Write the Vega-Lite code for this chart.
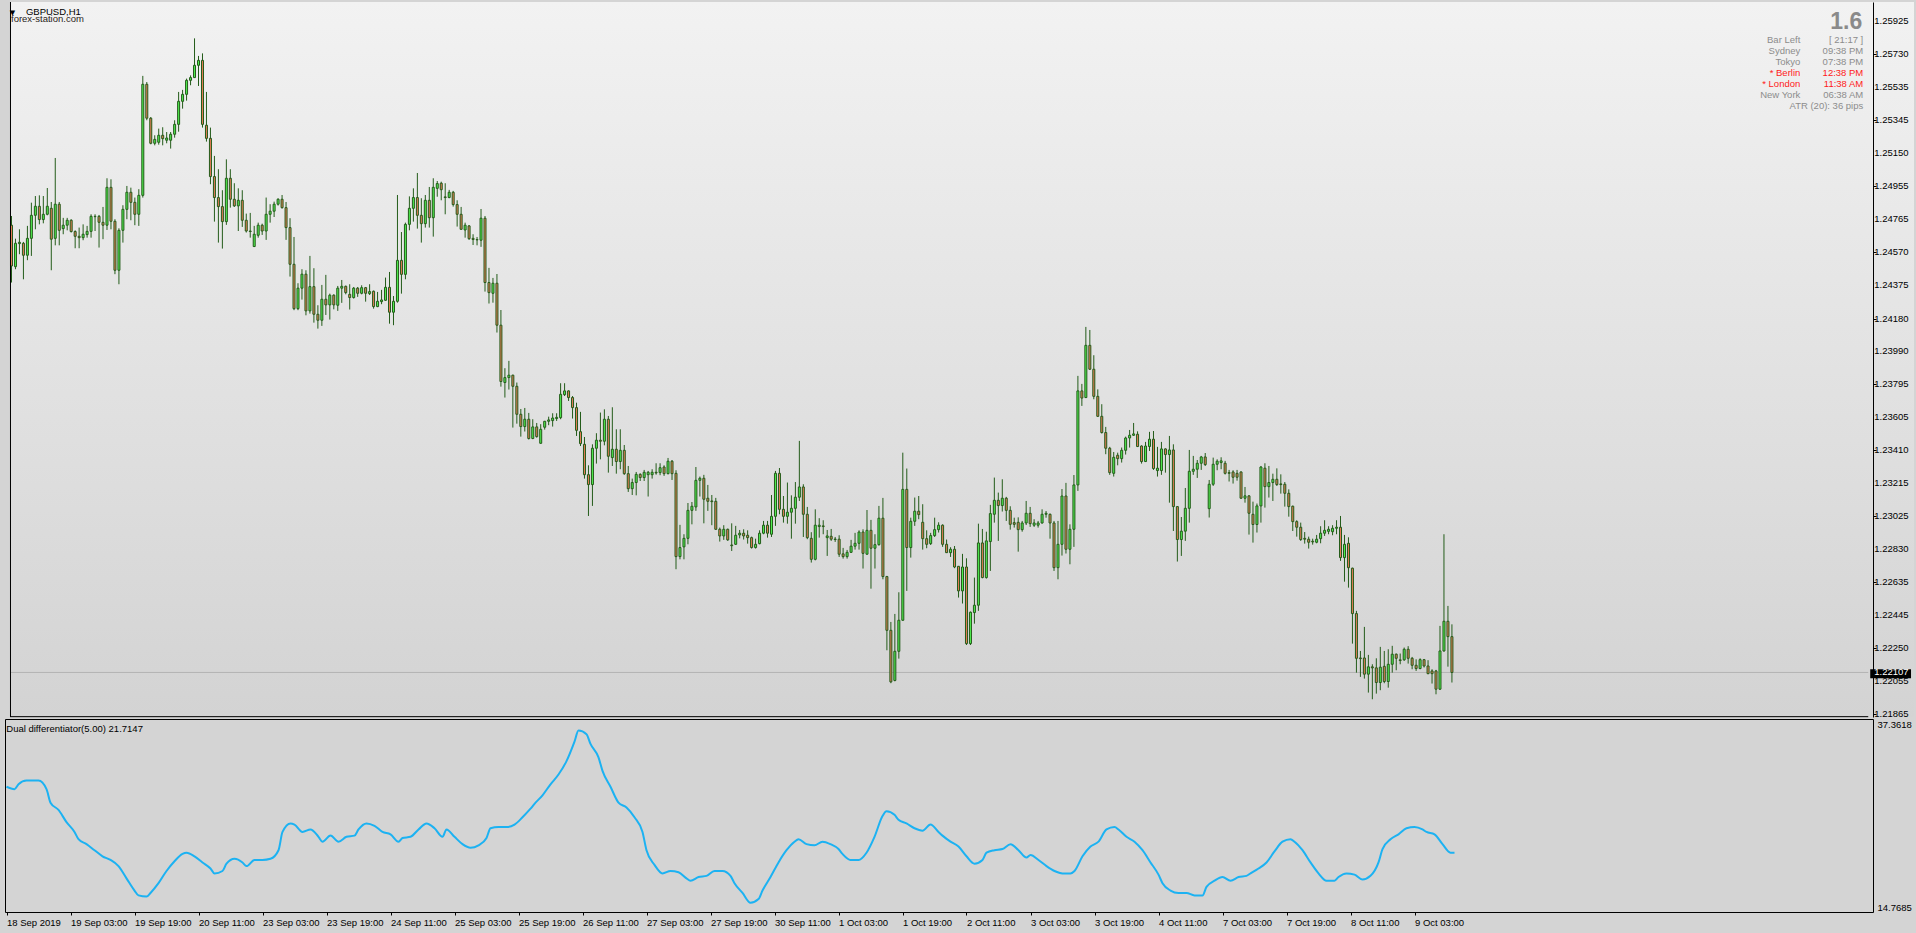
{
"$schema":"https://vega.github.io/schema/vega-lite/v6.json",
"background":"#d4d4d4",
"padding":{"left":2,"top":1,"right":0,"bottom":10},
"spacing":2,
"bounds":"flush",
"config":{"font":"Liberation Sans","view":{"stroke":null},"axis":{"labelFont":"Liberation Sans","labelFontSize":9.5,"labelColor":"#000","tickColor":"#000","domainColor":"#000","grid":false,"labelOverlap":false},"text":{"font":"Liberation Sans"}},
"datasets":{
"ylab":[{"t":1.25925},{"t":1.2573},{"t":1.25535},{"t":1.25345},{"t":1.2515},{"t":1.24955},{"t":1.24765},{"t":1.2457},{"t":1.24375},{"t":1.2418},{"t":1.2399},{"t":1.23795},{"t":1.23605},{"t":1.2341},{"t":1.23215},{"t":1.23025},{"t":1.2283},{"t":1.22635},{"t":1.22445},{"t":1.2225},{"t":1.22055},{"t":1.21865}],
"bars":[
{"k":0,"o":1.24728,"h":1.24782,"l":1.24392,"c":1.24489},
{"k":1,"o":1.24485,"h":1.24649,"l":1.24470,"c":1.24622},
{"k":2,"o":1.24620,"h":1.24704,"l":1.24558,"c":1.24628},
{"k":3,"o":1.24622,"h":1.24630,"l":1.24411,"c":1.24552},
{"k":4,"o":1.24552,"h":1.24724,"l":1.24523,"c":1.24651},
{"k":5,"o":1.24651,"h":1.24860,"l":1.24548,"c":1.24786},
{"k":6,"o":1.24786,"h":1.24899,"l":1.24704,"c":1.24839},
{"k":7,"o":1.24839,"h":1.24903,"l":1.24733,"c":1.24761},
{"k":8,"o":1.24761,"h":1.24899,"l":1.24739,"c":1.24792},
{"k":9,"o":1.24792,"h":1.24946,"l":1.24786,"c":1.24839},
{"k":10,"o":1.24827,"h":1.24864,"l":1.24464,"c":1.24646},
{"k":11,"o":1.24651,"h":1.25122,"l":1.24610,"c":1.24851},
{"k":12,"o":1.24851,"h":1.24864,"l":1.24610,"c":1.24698},
{"k":13,"o":1.24708,"h":1.24771,"l":1.24675,"c":1.24728},
{"k":14,"o":1.24728,"h":1.24771,"l":1.24698,"c":1.24757},
{"k":15,"o":1.24757,"h":1.24763,"l":1.24685,"c":1.24691},
{"k":16,"o":1.24691,"h":1.24698,"l":1.24593,"c":1.24663},
{"k":17,"o":1.24663,"h":1.24714,"l":1.24593,"c":1.24655},
{"k":18,"o":1.24655,"h":1.24733,"l":1.24640,"c":1.24675},
{"k":19,"o":1.24673,"h":1.24724,"l":1.24655,"c":1.24692},
{"k":20,"o":1.24692,"h":1.24792,"l":1.24655,"c":1.24780},
{"k":21,"o":1.24780,"h":1.24792,"l":1.24694,"c":1.24778},
{"k":22,"o":1.24780,"h":1.24788,"l":1.24597,"c":1.24745},
{"k":23,"o":1.24745,"h":1.24835,"l":1.24646,"c":1.24728},
{"k":24,"o":1.24728,"h":1.25003,"l":1.24700,"c":1.24950},
{"k":25,"o":1.24950,"h":1.24997,"l":1.24704,"c":1.24751},
{"k":26,"o":1.24751,"h":1.24763,"l":1.24441,"c":1.24464},
{"k":27,"o":1.24464,"h":1.24710,"l":1.24382,"c":1.24698},
{"k":28,"o":1.24698,"h":1.24845,"l":1.24626,"c":1.24821},
{"k":29,"o":1.24821,"h":1.24958,"l":1.24763,"c":1.24921},
{"k":30,"o":1.24921,"h":1.24948,"l":1.24757,"c":1.24862},
{"k":31,"o":1.24862,"h":1.24890,"l":1.24728,"c":1.24792},
{"k":32,"o":1.24792,"h":1.24939,"l":1.24724,"c":1.24903},
{"k":33,"o":1.24903,"h":1.25603,"l":1.24890,"c":1.25554},
{"k":34,"o":1.25554,"h":1.25567,"l":1.25343,"c":1.25355},
{"k":35,"o":1.25355,"h":1.25362,"l":1.25202,"c":1.25208},
{"k":36,"o":1.25208,"h":1.25255,"l":1.25196,"c":1.25231},
{"k":37,"o":1.25214,"h":1.25294,"l":1.25200,"c":1.25255},
{"k":38,"o":1.25255,"h":1.25302,"l":1.25196,"c":1.25235},
{"k":39,"o":1.25226,"h":1.25274,"l":1.25208,"c":1.25239},
{"k":40,"o":1.25226,"h":1.25274,"l":1.25177,"c":1.25261},
{"k":41,"o":1.25261,"h":1.25343,"l":1.25241,"c":1.25319},
{"k":42,"o":1.25319,"h":1.25509,"l":1.25276,"c":1.25454},
{"k":43,"o":1.25454,"h":1.25521,"l":1.25411,"c":1.25495},
{"k":44,"o":1.25495,"h":1.25587,"l":1.25458,"c":1.25577},
{"k":45,"o":1.25577,"h":1.25606,"l":1.25548,"c":1.25593},
{"k":46,"o":1.25593,"h":1.25823,"l":1.25593,"c":1.25665},
{"k":47,"o":1.25665,"h":1.25720,"l":1.25544,"c":1.25694},
{"k":48,"o":1.25694,"h":1.25735,"l":1.25300,"c":1.25319},
{"k":49,"o":1.25314,"h":1.25509,"l":1.25218,"c":1.25237},
{"k":50,"o":1.25237,"h":1.25300,"l":1.24968,"c":1.25013},
{"k":51,"o":1.25013,"h":1.25134,"l":1.24749,"c":1.24890},
{"k":52,"o":1.24890,"h":1.25056,"l":1.24626,"c":1.24837},
{"k":53,"o":1.24837,"h":1.24933,"l":1.24591,"c":1.24749},
{"k":54,"o":1.24749,"h":1.25114,"l":1.24730,"c":1.25003},
{"k":55,"o":1.25003,"h":1.25056,"l":1.24831,"c":1.24880},
{"k":56,"o":1.24880,"h":1.24974,"l":1.24835,"c":1.24841},
{"k":57,"o":1.24841,"h":1.24944,"l":1.24694,"c":1.24874},
{"k":58,"o":1.24874,"h":1.24933,"l":1.24718,"c":1.24757},
{"k":59,"o":1.24757,"h":1.24796,"l":1.24685,"c":1.24694},
{"k":60,"o":1.24694,"h":1.24800,"l":1.24655,"c":1.24691},
{"k":61,"o":1.24603,"h":1.24724,"l":1.24600,"c":1.24675},
{"k":62,"o":1.24669,"h":1.24743,"l":1.24655,"c":1.24728},
{"k":63,"o":1.24728,"h":1.24737,"l":1.24671,"c":1.24694},
{"k":64,"o":1.24694,"h":1.24890,"l":1.24642,"c":1.24792},
{"k":65,"o":1.24792,"h":1.24851,"l":1.24743,"c":1.24810},
{"k":66,"o":1.24810,"h":1.24866,"l":1.24776,"c":1.24851},
{"k":67,"o":1.24851,"h":1.24886,"l":1.24843,"c":1.24880},
{"k":68,"o":1.24880,"h":1.24905,"l":1.24825,"c":1.24831},
{"k":69,"o":1.24831,"h":1.24864,"l":1.24642,"c":1.24714},
{"k":70,"o":1.24714,"h":1.24769,"l":1.24427,"c":1.24499},
{"k":71,"o":1.24499,"h":1.24659,"l":1.24230,"c":1.24239},
{"k":72,"o":1.24239,"h":1.24388,"l":1.24230,"c":1.24359},
{"k":73,"o":1.24359,"h":1.24470,"l":1.24292,"c":1.24441},
{"k":74,"o":1.24441,"h":1.24464,"l":1.24200,"c":1.24226},
{"k":75,"o":1.24226,"h":1.24548,"l":1.24210,"c":1.24368},
{"k":76,"o":1.24368,"h":1.24476,"l":1.24157,"c":1.24206},
{"k":77,"o":1.24206,"h":1.24259,"l":1.24122,"c":1.24171},
{"k":78,"o":1.24171,"h":1.24378,"l":1.24138,"c":1.24294},
{"k":79,"o":1.24294,"h":1.24437,"l":1.24202,"c":1.24261},
{"k":80,"o":1.24261,"h":1.24327,"l":1.24175,"c":1.24318},
{"k":81,"o":1.24318,"h":1.24323,"l":1.24235,"c":1.24261},
{"k":82,"o":1.24259,"h":1.24372,"l":1.24226,"c":1.24359},
{"k":83,"o":1.24359,"h":1.24407,"l":1.24273,"c":1.24370},
{"k":84,"o":1.24370,"h":1.24374,"l":1.24323,"c":1.24333},
{"k":85,"o":1.24323,"h":1.24382,"l":1.24234,"c":1.24304},
{"k":86,"o":1.24304,"h":1.24366,"l":1.24298,"c":1.24359},
{"k":87,"o":1.24359,"h":1.24366,"l":1.24308,"c":1.24329},
{"k":88,"o":1.24329,"h":1.24376,"l":1.24323,"c":1.24362},
{"k":89,"o":1.24362,"h":1.24366,"l":1.24280,"c":1.24329},
{"k":90,"o":1.24327,"h":1.24382,"l":1.24319,"c":1.24339},
{"k":91,"o":1.24341,"h":1.24345,"l":1.24239,"c":1.24251},
{"k":92,"o":1.24251,"h":1.24337,"l":1.24248,"c":1.24282},
{"k":93,"o":1.24280,"h":1.24349,"l":1.24265,"c":1.24290},
{"k":94,"o":1.24288,"h":1.24421,"l":1.24284,"c":1.24364},
{"k":95,"o":1.24364,"h":1.24454,"l":1.24151,"c":1.24218},
{"k":96,"o":1.24218,"h":1.24313,"l":1.24142,"c":1.24282},
{"k":97,"o":1.24282,"h":1.24905,"l":1.24274,"c":1.24522},
{"k":98,"o":1.24522,"h":1.24688,"l":1.24327,"c":1.24440},
{"k":99,"o":1.24440,"h":1.24743,"l":1.24411,"c":1.24733},
{"k":100,"o":1.24733,"h":1.24897,"l":1.24698,"c":1.24827},
{"k":101,"o":1.24827,"h":1.24944,"l":1.24749,"c":1.24890},
{"k":102,"o":1.24890,"h":1.25034,"l":1.24708,"c":1.24786},
{"k":103,"o":1.24786,"h":1.24886,"l":1.24626,"c":1.24737},
{"k":104,"o":1.24737,"h":1.24905,"l":1.24714,"c":1.24874},
{"k":105,"o":1.24874,"h":1.24952,"l":1.24714,"c":1.24772},
{"k":106,"o":1.24772,"h":1.25003,"l":1.24661,"c":1.24950},
{"k":107,"o":1.24944,"h":1.24987,"l":1.24895,"c":1.24972},
{"k":108,"o":1.24974,"h":1.24983,"l":1.24874,"c":1.24936},
{"k":109,"o":1.24894,"h":1.24974,"l":1.24792,"c":1.24890},
{"k":110,"o":1.24890,"h":1.24935,"l":1.24886,"c":1.24921},
{"k":111,"o":1.24921,"h":1.24929,"l":1.24837,"c":1.24849},
{"k":112,"o":1.24849,"h":1.24874,"l":1.24720,"c":1.24792},
{"k":113,"o":1.24792,"h":1.24835,"l":1.24702,"c":1.24704},
{"k":114,"o":1.24700,"h":1.24743,"l":1.24655,"c":1.24728},
{"k":115,"o":1.24724,"h":1.24729,"l":1.24642,"c":1.24649},
{"k":116,"o":1.24651,"h":1.24675,"l":1.24612,"c":1.24644},
{"k":117,"o":1.24644,"h":1.24659,"l":1.24610,"c":1.24642},
{"k":118,"o":1.24640,"h":1.24823,"l":1.24601,"c":1.24769},
{"k":119,"o":1.24769,"h":1.24782,"l":1.24339,"c":1.24392},
{"k":120,"o":1.24392,"h":1.24478,"l":1.24269,"c":1.24333},
{"k":121,"o":1.24329,"h":1.24419,"l":1.24274,"c":1.24388},
{"k":122,"o":1.24388,"h":1.24442,"l":1.24099,"c":1.24142},
{"k":123,"o":1.24142,"h":1.24231,"l":1.23782,"c":1.23812},
{"k":124,"o":1.23806,"h":1.23890,"l":1.23718,"c":1.23835},
{"k":125,"o":1.23835,"h":1.23933,"l":1.23765,"c":1.23849},
{"k":126,"o":1.23849,"h":1.23852,"l":1.23542,"c":1.23784},
{"k":127,"o":1.23784,"h":1.23806,"l":1.23565,"c":1.23620},
{"k":128,"o":1.23620,"h":1.23651,"l":1.23489,"c":1.23548},
{"k":129,"o":1.23548,"h":1.23657,"l":1.23519,"c":1.23591},
{"k":130,"o":1.23591,"h":1.23628,"l":1.23472,"c":1.23478},
{"k":131,"o":1.23478,"h":1.23591,"l":1.23474,"c":1.23546},
{"k":132,"o":1.23546,"h":1.23569,"l":1.23483,"c":1.23489},
{"k":133,"o":1.23450,"h":1.23562,"l":1.23448,"c":1.23532},
{"k":134,"o":1.23544,"h":1.23581,"l":1.23530,"c":1.23579},
{"k":135,"o":1.23579,"h":1.23606,"l":1.23556,"c":1.23587},
{"k":136,"o":1.23583,"h":1.23626,"l":1.23548,"c":1.23598},
{"k":137,"o":1.23595,"h":1.23626,"l":1.23581,"c":1.23602},
{"k":138,"o":1.23600,"h":1.23802,"l":1.23591,"c":1.23737},
{"k":139,"o":1.23735,"h":1.23802,"l":1.23727,"c":1.23757},
{"k":140,"o":1.23757,"h":1.23760,"l":1.23698,"c":1.23718},
{"k":141,"o":1.23718,"h":1.23727,"l":1.23595,"c":1.23659},
{"k":142,"o":1.23659,"h":1.23688,"l":1.23493,"c":1.23526},
{"k":143,"o":1.23518,"h":1.23634,"l":1.23434,"c":1.23448},
{"k":144,"o":1.23444,"h":1.23487,"l":1.23243,"c":1.23266},
{"k":145,"o":1.23266,"h":1.23321,"l":1.23024,"c":1.23208},
{"k":146,"o":1.23208,"h":1.23444,"l":1.23083,"c":1.23421},
{"k":147,"o":1.23421,"h":1.23509,"l":1.23331,"c":1.23468},
{"k":148,"o":1.23468,"h":1.23630,"l":1.23356,"c":1.23462},
{"k":149,"o":1.23462,"h":1.23649,"l":1.23438,"c":1.23591},
{"k":150,"o":1.23591,"h":1.23610,"l":1.23278,"c":1.23374},
{"k":151,"o":1.23366,"h":1.23661,"l":1.23317,"c":1.23415},
{"k":152,"o":1.23415,"h":1.23532,"l":1.23272,"c":1.23343},
{"k":153,"o":1.23343,"h":1.23532,"l":1.23298,"c":1.23409},
{"k":154,"o":1.23409,"h":1.23440,"l":1.23265,"c":1.23272},
{"k":155,"o":1.23272,"h":1.23317,"l":1.23165,"c":1.23184},
{"k":156,"o":1.23184,"h":1.23243,"l":1.23147,"c":1.23220},
{"k":157,"o":1.23220,"h":1.23282,"l":1.23145,"c":1.23268},
{"k":158,"o":1.23268,"h":1.23274,"l":1.23229,"c":1.23249},
{"k":159,"o":1.23249,"h":1.23294,"l":1.23229,"c":1.23280},
{"k":160,"o":1.23266,"h":1.23288,"l":1.23138,"c":1.23280},
{"k":161,"o":1.23266,"h":1.23298,"l":1.23243,"c":1.23280},
{"k":162,"o":1.23280,"h":1.23333,"l":1.23266,"c":1.23276},
{"k":163,"o":1.23278,"h":1.23333,"l":1.23263,"c":1.23307},
{"k":164,"o":1.23311,"h":1.23321,"l":1.23259,"c":1.23272},
{"k":165,"o":1.23272,"h":1.23364,"l":1.23268,"c":1.23345},
{"k":166,"o":1.23345,"h":1.23352,"l":1.23235,"c":1.23272},
{"k":167,"o":1.23274,"h":1.23292,"l":1.22712,"c":1.22786},
{"k":168,"o":1.22786,"h":1.22972,"l":1.22770,"c":1.22839},
{"k":169,"o":1.22843,"h":1.22917,"l":1.22770,"c":1.22893},
{"k":170,"o":1.22893,"h":1.23100,"l":1.22858,"c":1.23057},
{"k":171,"o":1.23057,"h":1.23106,"l":1.22975,"c":1.23081},
{"k":172,"o":1.23077,"h":1.23311,"l":1.23054,"c":1.23233},
{"k":173,"o":1.23233,"h":1.23255,"l":1.23138,"c":1.23245},
{"k":174,"o":1.23245,"h":1.23265,"l":1.22981,"c":1.23122},
{"k":175,"o":1.23128,"h":1.23206,"l":1.23054,"c":1.23110},
{"k":176,"o":1.23112,"h":1.23147,"l":1.22970,"c":1.23108},
{"k":177,"o":1.23110,"h":1.23130,"l":1.22942,"c":1.22946},
{"k":178,"o":1.22946,"h":1.22956,"l":1.22874,"c":1.22907},
{"k":179,"o":1.22907,"h":1.22970,"l":1.22884,"c":1.22946},
{"k":180,"o":1.22946,"h":1.22950,"l":1.22878,"c":1.22884},
{"k":181,"o":1.22854,"h":1.22981,"l":1.22819,"c":1.22850},
{"k":182,"o":1.22858,"h":1.22966,"l":1.22855,"c":1.22911},
{"k":183,"o":1.22913,"h":1.22942,"l":1.22893,"c":1.22923},
{"k":184,"o":1.22923,"h":1.22946,"l":1.22886,"c":1.22907},
{"k":185,"o":1.22911,"h":1.22940,"l":1.22862,"c":1.22897},
{"k":186,"o":1.22897,"h":1.22903,"l":1.22833,"c":1.22839},
{"k":187,"o":1.22839,"h":1.22891,"l":1.22833,"c":1.22858},
{"k":188,"o":1.22862,"h":1.22940,"l":1.22858,"c":1.22923},
{"k":189,"o":1.22923,"h":1.22995,"l":1.22917,"c":1.22970},
{"k":190,"o":1.22970,"h":1.22995,"l":1.22897,"c":1.22923},
{"k":191,"o":1.22917,"h":1.23147,"l":1.22901,"c":1.23022},
{"k":192,"o":1.23022,"h":1.23288,"l":1.22966,"c":1.23274},
{"k":193,"o":1.23274,"h":1.23305,"l":1.23034,"c":1.23063},
{"k":194,"o":1.23063,"h":1.23141,"l":1.22985,"c":1.23022},
{"k":195,"o":1.23022,"h":1.23220,"l":1.22979,"c":1.23046},
{"k":196,"o":1.23046,"h":1.23145,"l":1.22891,"c":1.23069},
{"k":197,"o":1.23069,"h":1.23223,"l":1.22979,"c":1.23134},
{"k":198,"o":1.23134,"h":1.23464,"l":1.23112,"c":1.23194},
{"k":199,"o":1.23194,"h":1.23210,"l":1.22901,"c":1.23034},
{"k":200,"o":1.23034,"h":1.23077,"l":1.22888,"c":1.22897},
{"k":201,"o":1.22893,"h":1.22929,"l":1.22751,"c":1.22770},
{"k":202,"o":1.22770,"h":1.23063,"l":1.22764,"c":1.22970},
{"k":203,"o":1.22962,"h":1.23011,"l":1.22897,"c":1.22970},
{"k":204,"o":1.22966,"h":1.22999,"l":1.22917,"c":1.22962},
{"k":205,"o":1.22897,"h":1.22942,"l":1.22790,"c":1.22907},
{"k":206,"o":1.22905,"h":1.22948,"l":1.22878,"c":1.22888},
{"k":207,"o":1.22889,"h":1.22901,"l":1.22872,"c":1.22886},
{"k":208,"o":1.22888,"h":1.22911,"l":1.22784,"c":1.22800},
{"k":209,"o":1.22802,"h":1.22837,"l":1.22774,"c":1.22786},
{"k":210,"o":1.22786,"h":1.22825,"l":1.22774,"c":1.22811},
{"k":211,"o":1.22811,"h":1.22884,"l":1.22807,"c":1.22847},
{"k":212,"o":1.22847,"h":1.22925,"l":1.22827,"c":1.22864},
{"k":213,"o":1.22864,"h":1.22940,"l":1.22827,"c":1.22930},
{"k":214,"o":1.22930,"h":1.22946,"l":1.22716,"c":1.22805},
{"k":215,"o":1.22800,"h":1.23059,"l":1.22798,"c":1.22940},
{"k":216,"o":1.22940,"h":1.23001,"l":1.22598,"c":1.22835},
{"k":217,"o":1.22835,"h":1.22917,"l":1.22716,"c":1.22856},
{"k":218,"o":1.22856,"h":1.23083,"l":1.22850,"c":1.23011},
{"k":219,"o":1.23011,"h":1.23130,"l":1.22653,"c":1.22669},
{"k":220,"o":1.22669,"h":1.22673,"l":1.22237,"c":1.22354},
{"k":221,"o":1.22354,"h":1.22403,"l":1.22044,"c":1.22052},
{"k":222,"o":1.22060,"h":1.22450,"l":1.22055,"c":1.22231},
{"k":223,"o":1.22231,"h":1.22577,"l":1.22188,"c":1.22413},
{"k":224,"o":1.22413,"h":1.23395,"l":1.22409,"c":1.23180},
{"k":225,"o":1.23180,"h":1.23302,"l":1.22585,"c":1.22839},
{"k":226,"o":1.22839,"h":1.23014,"l":1.22780,"c":1.22993},
{"k":227,"o":1.22993,"h":1.23132,"l":1.22966,"c":1.23052},
{"k":228,"o":1.23052,"h":1.23141,"l":1.23005,"c":1.23032},
{"k":229,"o":1.22987,"h":1.23093,"l":1.22827,"c":1.22891},
{"k":230,"o":1.22891,"h":1.22940,"l":1.22835,"c":1.22858},
{"k":231,"o":1.22862,"h":1.22925,"l":1.22854,"c":1.22909},
{"k":232,"o":1.22909,"h":1.23014,"l":1.22901,"c":1.22944},
{"k":233,"o":1.22944,"h":1.22987,"l":1.22927,"c":1.22970},
{"k":234,"o":1.22970,"h":1.22975,"l":1.22843,"c":1.22858},
{"k":235,"o":1.22858,"h":1.22886,"l":1.22807,"c":1.22809},
{"k":236,"o":1.22809,"h":1.22841,"l":1.22784,"c":1.22829},
{"k":237,"o":1.22829,"h":1.22848,"l":1.22718,"c":1.22725},
{"k":238,"o":1.22729,"h":1.22731,"l":1.22546,"c":1.22585},
{"k":239,"o":1.22585,"h":1.22802,"l":1.22511,"c":1.22725},
{"k":240,"o":1.22725,"h":1.22776,"l":1.22268,"c":1.22276},
{"k":241,"o":1.22276,"h":1.22464,"l":1.22268,"c":1.22460},
{"k":242,"o":1.22458,"h":1.22663,"l":1.22393,"c":1.22501},
{"k":243,"o":1.22501,"h":1.22979,"l":1.22468,"c":1.22866},
{"k":244,"o":1.22866,"h":1.22948,"l":1.22659,"c":1.22663},
{"k":245,"o":1.22663,"h":1.22932,"l":1.22657,"c":1.22878},
{"k":246,"o":1.22874,"h":1.23089,"l":1.22702,"c":1.23038},
{"k":247,"o":1.23034,"h":1.23249,"l":1.22985,"c":1.23116},
{"k":248,"o":1.23116,"h":1.23161,"l":1.22878,"c":1.23085},
{"k":249,"o":1.23085,"h":1.23239,"l":1.23050,"c":1.23128},
{"k":250,"o":1.23128,"h":1.23136,"l":1.22995,"c":1.23057},
{"k":251,"o":1.23057,"h":1.23081,"l":1.22944,"c":1.22975},
{"k":252,"o":1.22985,"h":1.23014,"l":1.22956,"c":1.22975},
{"k":253,"o":1.22987,"h":1.23016,"l":1.22815,"c":1.22944},
{"k":254,"o":1.22944,"h":1.22995,"l":1.22932,"c":1.22983},
{"k":255,"o":1.22983,"h":1.23112,"l":1.22971,"c":1.23040},
{"k":256,"o":1.23040,"h":1.23077,"l":1.22960,"c":1.22979},
{"k":257,"o":1.22970,"h":1.23005,"l":1.22960,"c":1.22983},
{"k":258,"o":1.22970,"h":1.22995,"l":1.22956,"c":1.22983},
{"k":259,"o":1.22983,"h":1.23063,"l":1.22979,"c":1.23034},
{"k":260,"o":1.23034,"h":1.23053,"l":1.23014,"c":1.23040},
{"k":261,"o":1.23034,"h":1.23038,"l":1.22891,"c":1.22983},
{"k":262,"o":1.22983,"h":1.22995,"l":1.22702,"c":1.22721},
{"k":263,"o":1.22721,"h":1.22995,"l":1.22653,"c":1.22858},
{"k":264,"o":1.22858,"h":1.23182,"l":1.22792,"c":1.23141},
{"k":265,"o":1.23141,"h":1.23218,"l":1.22804,"c":1.22829},
{"k":266,"o":1.22829,"h":1.22975,"l":1.22741,"c":1.22946},
{"k":267,"o":1.22946,"h":1.23264,"l":1.22843,"c":1.23206},
{"k":268,"o":1.23206,"h":1.23845,"l":1.23171,"c":1.23757},
{"k":269,"o":1.23757,"h":1.23798,"l":1.23669,"c":1.23715},
{"k":270,"o":1.23718,"h":1.24132,"l":1.23715,"c":1.24024},
{"k":271,"o":1.24024,"h":1.24114,"l":1.23880,"c":1.23884},
{"k":272,"o":1.23884,"h":1.23966,"l":1.23708,"c":1.23725},
{"k":273,"o":1.23725,"h":1.23766,"l":1.23605,"c":1.23608},
{"k":274,"o":1.23608,"h":1.23679,"l":1.23507,"c":1.23513},
{"k":275,"o":1.23513,"h":1.23546,"l":1.23386,"c":1.23421},
{"k":276,"o":1.23421,"h":1.23429,"l":1.23265,"c":1.23278},
{"k":277,"o":1.23274,"h":1.23399,"l":1.23255,"c":1.23368},
{"k":278,"o":1.23380,"h":1.23395,"l":1.23321,"c":1.23360},
{"k":279,"o":1.23360,"h":1.23425,"l":1.23337,"c":1.23409},
{"k":280,"o":1.23409,"h":1.23489,"l":1.23384,"c":1.23481},
{"k":281,"o":1.23481,"h":1.23528,"l":1.23425,"c":1.23497},
{"k":282,"o":1.23497,"h":1.23569,"l":1.23493,"c":1.23505},
{"k":283,"o":1.23503,"h":1.23520,"l":1.23428,"c":1.23431},
{"k":284,"o":1.23434,"h":1.23438,"l":1.23331,"c":1.23343},
{"k":285,"o":1.23343,"h":1.23458,"l":1.23340,"c":1.23434},
{"k":286,"o":1.23431,"h":1.23517,"l":1.23405,"c":1.23474},
{"k":287,"o":1.23474,"h":1.23522,"l":1.23294,"c":1.23302},
{"k":288,"o":1.23290,"h":1.23429,"l":1.23255,"c":1.23304},
{"k":289,"o":1.23290,"h":1.23458,"l":1.23265,"c":1.23417},
{"k":290,"o":1.23417,"h":1.23420,"l":1.23278,"c":1.23384},
{"k":291,"o":1.23384,"h":1.23493,"l":1.23102,"c":1.23411},
{"k":292,"o":1.23411,"h":1.23444,"l":1.22936,"c":1.23079},
{"k":293,"o":1.23079,"h":1.23082,"l":1.22757,"c":1.22886},
{"k":294,"o":1.22886,"h":1.23018,"l":1.22790,"c":1.22935},
{"k":295,"o":1.22935,"h":1.23188,"l":1.22878,"c":1.23069},
{"k":296,"o":1.23069,"h":1.23411,"l":1.22985,"c":1.23286},
{"k":297,"o":1.23286,"h":1.23376,"l":1.23265,"c":1.23298},
{"k":298,"o":1.23298,"h":1.23352,"l":1.23247,"c":1.23333},
{"k":299,"o":1.23333,"h":1.23376,"l":1.23294,"c":1.23370},
{"k":300,"o":1.23370,"h":1.23393,"l":1.23317,"c":1.23325},
{"k":301,"o":1.23067,"h":1.23235,"l":1.23015,"c":1.23210},
{"k":302,"o":1.23210,"h":1.23366,"l":1.23200,"c":1.23327},
{"k":303,"o":1.23327,"h":1.23356,"l":1.23292,"c":1.23345},
{"k":304,"o":1.23337,"h":1.23368,"l":1.23298,"c":1.23347},
{"k":305,"o":1.23333,"h":1.23347,"l":1.23267,"c":1.23274},
{"k":306,"o":1.23278,"h":1.23294,"l":1.23226,"c":1.23274},
{"k":307,"o":1.23282,"h":1.23292,"l":1.23214,"c":1.23251},
{"k":308,"o":1.23274,"h":1.23294,"l":1.23231,"c":1.23251},
{"k":309,"o":1.23282,"h":1.23285,"l":1.23126,"c":1.23128},
{"k":310,"o":1.23128,"h":1.23194,"l":1.23102,"c":1.23142},
{"k":311,"o":1.23142,"h":1.23145,"l":1.22915,"c":1.23040},
{"k":312,"o":1.23034,"h":1.23108,"l":1.22868,"c":1.22974},
{"k":313,"o":1.22974,"h":1.23097,"l":1.22927,"c":1.23083},
{"k":314,"o":1.23083,"h":1.23317,"l":1.22985,"c":1.23311},
{"k":315,"o":1.23304,"h":1.23333,"l":1.23073,"c":1.23196},
{"k":316,"o":1.23196,"h":1.23317,"l":1.23132,"c":1.23220},
{"k":317,"o":1.23220,"h":1.23272,"l":1.23112,"c":1.23239},
{"k":318,"o":1.23239,"h":1.23303,"l":1.23200,"c":1.23208},
{"k":319,"o":1.23212,"h":1.23268,"l":1.23155,"c":1.23208},
{"k":320,"o":1.23210,"h":1.23223,"l":1.23079,"c":1.23157},
{"k":321,"o":1.23157,"h":1.23180,"l":1.23020,"c":1.23079},
{"k":322,"o":1.23081,"h":1.23085,"l":1.22936,"c":1.22991},
{"k":323,"o":1.22991,"h":1.22999,"l":1.22903,"c":1.22958},
{"k":324,"o":1.22958,"h":1.22985,"l":1.22878,"c":1.22886},
{"k":325,"o":1.22893,"h":1.22930,"l":1.22862,"c":1.22888},
{"k":326,"o":1.22888,"h":1.22903,"l":1.22833,"c":1.22870},
{"k":327,"o":1.22876,"h":1.22891,"l":1.22856,"c":1.22872},
{"k":328,"o":1.22870,"h":1.22913,"l":1.22864,"c":1.22888},
{"k":329,"o":1.22891,"h":1.22964,"l":1.22864,"c":1.22923},
{"k":330,"o":1.22923,"h":1.22999,"l":1.22907,"c":1.22940},
{"k":331,"o":1.22934,"h":1.22964,"l":1.22917,"c":1.22946},
{"k":332,"o":1.22932,"h":1.22970,"l":1.22911,"c":1.22952},
{"k":333,"o":1.22952,"h":1.22999,"l":1.22917,"c":1.22958},
{"k":334,"o":1.22958,"h":1.23024,"l":1.22761,"c":1.22780},
{"k":335,"o":1.22780,"h":1.22913,"l":1.22639,"c":1.22858},
{"k":336,"o":1.22864,"h":1.22899,"l":1.22604,"c":1.22721},
{"k":337,"o":1.22718,"h":1.22721,"l":1.22276,"c":1.22452},
{"k":338,"o":1.22452,"h":1.22468,"l":1.22106,"c":1.22190},
{"k":339,"o":1.22192,"h":1.22233,"l":1.22081,"c":1.22188},
{"k":340,"o":1.22192,"h":1.22374,"l":1.22071,"c":1.22097},
{"k":341,"o":1.22097,"h":1.22210,"l":1.21989,"c":1.22140},
{"k":342,"o":1.22140,"h":1.22155,"l":1.21950,"c":1.22134},
{"k":343,"o":1.22134,"h":1.22190,"l":1.21983,"c":1.22048},
{"k":344,"o":1.22048,"h":1.22257,"l":1.22003,"c":1.22138},
{"k":345,"o":1.22143,"h":1.22233,"l":1.22044,"c":1.22054},
{"k":346,"o":1.22054,"h":1.22243,"l":1.22018,"c":1.22155},
{"k":347,"o":1.22155,"h":1.22263,"l":1.22106,"c":1.22214},
{"k":348,"o":1.22214,"h":1.22218,"l":1.22120,"c":1.22190},
{"k":349,"o":1.22181,"h":1.22218,"l":1.22155,"c":1.22177},
{"k":350,"o":1.22181,"h":1.22253,"l":1.22175,"c":1.22243},
{"k":351,"o":1.22243,"h":1.22261,"l":1.22159,"c":1.22190},
{"k":352,"o":1.22190,"h":1.22198,"l":1.22126,"c":1.22149},
{"k":353,"o":1.22149,"h":1.22184,"l":1.22116,"c":1.22130},
{"k":354,"o":1.22130,"h":1.22190,"l":1.22126,"c":1.22182},
{"k":355,"o":1.22182,"h":1.22186,"l":1.22136,"c":1.22145},
{"k":356,"o":1.22145,"h":1.22179,"l":1.22097,"c":1.22100},
{"k":357,"o":1.22116,"h":1.22126,"l":1.22042,"c":1.22100},
{"k":358,"o":1.22116,"h":1.22122,"l":1.21979,"c":1.22009},
{"k":359,"o":1.22009,"h":1.22380,"l":1.22005,"c":1.22233},
{"k":360,"o":1.22233,"h":1.22917,"l":1.22229,"c":1.22407},
{"k":361,"o":1.22407,"h":1.22497,"l":1.22141,"c":1.22317},
{"k":362,"o":1.22317,"h":1.22389,"l":1.22048,"c":1.22107}
],
"ind":[
{"k":0,"v":29.43},{"k":2,"v":29.15},{"k":3,"v":29.72},{"k":5,"v":30.15},{"k":8,"v":30.15},{"k":10,"v":29.15},{"k":11,"v":27.57},{"k":13,"v":26.72},{"k":15,"v":25.29},{"k":17,"v":24.14},{"k":18,"v":23.29},{"k":20,"v":22.71},{"k":22,"v":22.0},{"k":24,"v":21.29},{"k":26,"v":20.86},{"k":28,"v":20.14},{"k":30,"v":18.71},{"k":32,"v":17.28},{"k":33,"v":16.71},{"k":35,"v":16.57},{"k":36,"v":17.0},{"k":38,"v":18.14},{"k":40,"v":19.57},{"k":42,"v":20.71},{"k":44,"v":21.57},{"k":45,"v":21.71},{"k":47,"v":21.29},{"k":49,"v":20.57},{"k":51,"v":19.86},{"k":52,"v":19.29},{"k":54,"v":19.57},{"k":55,"v":20.43},{"k":57,"v":21.0},{"k":59,"v":20.57},{"k":60,"v":20.14},{"k":62,"v":20.86},{"k":64,"v":20.86},{"k":66,"v":21.0},{"k":68,"v":22.0},{"k":69,"v":24.14},{"k":71,"v":25.14},{"k":72,"v":25.0},{"k":74,"v":24.14},{"k":76,"v":24.43},{"k":78,"v":23.57},{"k":79,"v":23.0},{"k":81,"v":23.71},{"k":83,"v":23.0},{"k":85,"v":23.57},{"k":87,"v":23.71},{"k":88,"v":24.43},{"k":90,"v":25.14},{"k":92,"v":24.86},{"k":94,"v":24.14},{"k":96,"v":23.86},{"k":98,"v":23.0},{"k":99,"v":23.43},{"k":101,"v":23.57},{"k":103,"v":24.43},{"k":105,"v":25.14},{"k":107,"v":24.57},{"k":109,"v":23.57},{"k":110,"v":24.43},{"k":112,"v":23.57},{"k":114,"v":22.71},{"k":116,"v":22.29},{"k":118,"v":22.57},{"k":120,"v":23.43},{"k":121,"v":24.57},{"k":123,"v":24.71},{"k":125,"v":24.71},{"k":127,"v":25.0},{"k":129,"v":25.86},{"k":131,"v":26.86},{"k":132,"v":27.43},{"k":134,"v":28.43},{"k":136,"v":29.72},{"k":138,"v":30.86},{"k":140,"v":32.43},{"k":142,"v":34.72},{"k":143,"v":36.01},{"k":145,"v":35.58},{"k":146,"v":34.44},{"k":148,"v":32.86},{"k":149,"v":31.29},{"k":151,"v":29.43},{"k":153,"v":27.57},{"k":155,"v":27.0},{"k":157,"v":25.86},{"k":159,"v":24.14},{"k":160,"v":22.0},{"k":162,"v":20.29},{"k":164,"v":19.29},{"k":166,"v":19.57},{"k":168,"v":19.43},{"k":170,"v":18.71},{"k":171,"v":18.43},{"k":173,"v":18.86},{"k":175,"v":19.0},{"k":177,"v":19.57},{"k":179,"v":19.57},{"k":181,"v":19.0},{"k":182,"v":18.14},{"k":184,"v":17.0},{"k":186,"v":15.85},{"k":188,"v":16.28},{"k":189,"v":17.28},{"k":191,"v":18.86},{"k":193,"v":20.57},{"k":195,"v":22.0},{"k":197,"v":23.0},{"k":198,"v":23.29},{"k":200,"v":22.71},{"k":202,"v":22.57},{"k":204,"v":23.0},{"k":206,"v":22.71},{"k":208,"v":22.14},{"k":209,"v":21.57},{"k":211,"v":20.86},{"k":213,"v":20.86},{"k":215,"v":21.71},{"k":217,"v":23.57},{"k":219,"v":26.0},{"k":220,"v":26.57},{"k":222,"v":26.14},{"k":223,"v":25.57},{"k":225,"v":25.14},{"k":227,"v":24.57},{"k":229,"v":24.29},{"k":231,"v":25.0},{"k":233,"v":24.14},{"k":234,"v":23.71},{"k":236,"v":23.0},{"k":238,"v":22.43},{"k":240,"v":21.29},{"k":242,"v":20.43},{"k":244,"v":20.86},{"k":245,"v":21.71},{"k":247,"v":22.0},{"k":249,"v":22.14},{"k":251,"v":22.71},{"k":253,"v":22.0},{"k":255,"v":21.14},{"k":256,"v":21.43},{"k":258,"v":20.86},{"k":260,"v":20.14},{"k":262,"v":19.57},{"k":264,"v":19.29},{"k":266,"v":19.29},{"k":267,"v":19.57},{"k":269,"v":21.29},{"k":271,"v":22.43},{"k":273,"v":23.0},{"k":275,"v":24.43},{"k":277,"v":24.71},{"k":278,"v":24.43},{"k":280,"v":23.57},{"k":282,"v":23.0},{"k":284,"v":22.0},{"k":286,"v":20.57},{"k":288,"v":19.14},{"k":289,"v":18.14},{"k":291,"v":17.28},{"k":293,"v":17.0},{"k":295,"v":17.0},{"k":297,"v":16.71},{"k":299,"v":16.71},{"k":300,"v":17.71},{"k":302,"v":18.43},{"k":304,"v":18.86},{"k":306,"v":18.43},{"k":308,"v":18.86},{"k":310,"v":19.0},{"k":311,"v":19.29},{"k":313,"v":19.86},{"k":315,"v":20.57},{"k":317,"v":21.86},{"k":319,"v":23.0},{"k":321,"v":23.29},{"k":322,"v":23.0},{"k":324,"v":22.0},{"k":326,"v":20.57},{"k":328,"v":19.29},{"k":330,"v":18.43},{"k":332,"v":18.43},{"k":333,"v":18.86},{"k":335,"v":19.29},{"k":337,"v":19.14},{"k":339,"v":18.57},{"k":341,"v":19.0},{"k":343,"v":20.57},{"k":344,"v":22.14},{"k":346,"v":23.29},{"k":348,"v":23.86},{"k":350,"v":24.57},{"k":352,"v":24.71},{"k":354,"v":24.43},{"k":355,"v":24.14},{"k":357,"v":23.86},{"k":359,"v":22.71},{"k":361,"v":21.71},{"k":362,"v":21.7147}
]
},
"vconcat":[
{
"width":1914,"height":715,
"layer":[
{"data":{"values":[{}]},
 "mark":{"type":"rect","color":{"gradient":"linear","x1":0,"y1":0,"x2":0,"y2":1,"stops":[{"offset":0,"color":"#f2f2f2"},{"offset":1,"color":"#d3d3d3"}]}},
 "encoding":{
  "x":{"datum":-0.375,"type":"quantitative","scale":{"domain":[-0.375,478.125],"nice":false,"zero":false},"axis":null},
  "x2":{"datum":478.125},
  "y":{"datum":1.26036,"type":"quantitative","scale":{"domain":[1.21846,1.26036],"nice":false,"zero":false},
   "axis":{"orient":"right","offset":-46,"zindex":1,"title":null,"values":[1.25925,1.2573,1.25535,1.25345,1.2515,1.24955,1.24765,1.2457,1.24375,1.2418,1.2399,1.23795,1.23605,1.2341,1.23215,1.23025,1.2283,1.22635,1.22445,1.2225,1.22055,1.21865],"labels":false,"tickSize":3,"domain":true,"domainColor":"#000"}},
  "y2":{"datum":1.21846}}},
{"data":{"name":"ylab"},
 "mark":{"type":"text","align":"left","baseline":"middle","fontSize":9.5,"color":"#000"},
 "encoding":{"x":{"datum":468.125,"type":"quantitative","scale":{"domain":[-0.375,478.125],"nice":false,"zero":false},"axis":null},
  "y":{"field":"t","type":"quantitative","scale":{"domain":[1.21846,1.26036],"nice":false,"zero":false}},
  "text":{"field":"t","type":"quantitative","format":".5f"}}},
{"data":{"values":[{}]},
 "mark":{"type":"rule","color":"#b4b4b4","strokeWidth":1},
 "encoding":{"x":{"datum":-0.375,"type":"quantitative","scale":{"domain":[-0.375,478.125],"nice":false,"zero":false},"axis":null},"x2":{"datum":466.625},
  "y":{"datum":1.22107,"type":"quantitative","scale":{"domain":[1.21846,1.26036],"nice":false,"zero":false}}}},
{"data":{"name":"bars"},
 "mark":{"type":"rule","color":"#245c1a","strokeWidth":1},
 "encoding":{"x":{"field":"k","type":"quantitative","scale":{"domain":[-0.375,478.125],"nice":false,"zero":false},"axis":null},
  "y":{"field":"l","type":"quantitative","scale":{"domain":[1.21846,1.26036],"nice":false,"zero":false}},
  "y2":{"field":"h"}}},
{"data":{"name":"bars"},
 "mark":{"type":"bar","width":2,"stroke":"#245c1a","strokeWidth":1},
 "encoding":{"x":{"field":"k","type":"quantitative","scale":{"domain":[-0.375,478.125],"nice":false,"zero":false},"axis":null},
  "y":{"field":"o","type":"quantitative","scale":{"domain":[1.21846,1.26036],"nice":false,"zero":false}},
  "y2":{"field":"c"},
  "fill":{"condition":{"test":"datum.c >= datum.o","value":"#50ee50"},"value":"#e47c56"}}},
{"data":{"values":[{}]},
 "mark":{"type":"rule","color":"#000","strokeWidth":1},
 "encoding":{"x":{"datum":-0.25,"type":"quantitative","scale":{"domain":[-0.375,478.125],"nice":false,"zero":false},"axis":null},
  "y":{"datum":1.26036,"type":"quantitative","scale":{"domain":[1.21846,1.26036],"nice":false,"zero":false}},"y2":{"datum":1.21846}}},
{"data":{"values":[{}]},
 "mark":{"type":"rule","color":"#000","strokeWidth":1},
 "encoding":{"x":{"datum":-0.375,"type":"quantitative","scale":{"domain":[-0.375,478.125],"nice":false,"zero":false},"axis":null},"x2":{"datum":466.625},
  "y":{"datum":1.21848,"type":"quantitative","scale":{"domain":[1.21846,1.26036],"nice":false,"zero":false}}}},
{"data":{"values":[{}]},
 "mark":{"type":"rect","color":"#000"},
 "encoding":{"x":{"datum":467.125,"type":"quantitative","scale":{"domain":[-0.375,478.125],"nice":false,"zero":false},"axis":null},"x2":{"datum":477.375},
  "y":{"datum":1.22126,"type":"quantitative","scale":{"domain":[1.21846,1.26036],"nice":false,"zero":false}},"y2":{"datum":1.22073}}},
{"data":{"values":[{}]},
 "mark":{"type":"text","text":"1.22107","align":"left","baseline":"middle","fontSize":9.5,"color":"#fff"},
 "encoding":{"x":{"datum":468.125,"type":"quantitative","scale":{"domain":[-0.375,478.125],"nice":false,"zero":false},"axis":null},
  "y":{"datum":1.22107,"type":"quantitative","scale":{"domain":[1.21846,1.26036],"nice":false,"zero":false}}}},
{"data":{"values":[{}]},
 "mark":{"type":"text","text":"▼","align":"center","baseline":"alphabetic","fontSize":7,"color":"#000","font":"DejaVu Sans"},
 "encoding":{"x":{"datum":0.25,"type":"quantitative","scale":{"domain":[-0.375,478.125],"nice":false,"zero":false},"axis":null},
  "y":{"datum":1.25960,"type":"quantitative","scale":{"domain":[1.21846,1.26036],"nice":false,"zero":false}}}},
{"data":{"values":[{}]},
 "mark":{"type":"text","text":"GBPUSD,H1","align":"left","baseline":"alphabetic","fontSize":9.5,"color":"#000"},
 "encoding":{"x":{"datum":3.625,"type":"quantitative","scale":{"domain":[-0.375,478.125],"nice":false,"zero":false},"axis":null},
  "y":{"datum":1.25960,"type":"quantitative","scale":{"domain":[1.21846,1.26036],"nice":false,"zero":false}}}},
{"data":{"values":[{}]},
 "mark":{"type":"text","text":"forex-station.com","align":"left","baseline":"alphabetic","fontSize":9.5,"color":"#2a2418"},
 "encoding":{"x":{"datum":-0.125,"type":"quantitative","scale":{"domain":[-0.375,478.125],"nice":false,"zero":false},"axis":null},
  "y":{"datum":1.25917,"type":"quantitative","scale":{"domain":[1.21846,1.26036],"nice":false,"zero":false}}}},
{"data":{"values":[{}]},
 "mark":{"type":"text","text":"1.6","align":"right","baseline":"alphabetic","fontSize":23,"fontWeight":"bold","color":"#8a8a8a"},
 "encoding":{"x":{"datum":465.125,"type":"quantitative","scale":{"domain":[-0.375,478.125],"nice":false,"zero":false},"axis":null},
  "y":{"datum":1.25876,"type":"quantitative","scale":{"domain":[1.21846,1.26036],"nice":false,"zero":false}}}},
{"data":{"values":[{}]},"mark":{"type":"text","text":"Bar Left","align":"right","baseline":"alphabetic","fontSize":9.5,"color":"#8c8c8c"},
 "encoding":{"x":{"datum":449.55,"type":"quantitative","scale":{"domain":[-0.375,478.125],"nice":false,"zero":false},"axis":null},"y":{"datum":1.25794,"type":"quantitative","scale":{"domain":[1.21846,1.26036],"nice":false,"zero":false}}}},
{"data":{"values":[{}]},"mark":{"type":"text","text":"Sydney","align":"right","baseline":"alphabetic","fontSize":9.5,"color":"#8c8c8c"},
 "encoding":{"x":{"datum":449.55,"type":"quantitative","scale":{"domain":[-0.375,478.125],"nice":false,"zero":false},"axis":null},"y":{"datum":1.2573,"type":"quantitative","scale":{"domain":[1.21846,1.26036],"nice":false,"zero":false}}}},
{"data":{"values":[{}]},"mark":{"type":"text","text":"Tokyo","align":"right","baseline":"alphabetic","fontSize":9.5,"color":"#8c8c8c"},
 "encoding":{"x":{"datum":449.55,"type":"quantitative","scale":{"domain":[-0.375,478.125],"nice":false,"zero":false},"axis":null},"y":{"datum":1.25665,"type":"quantitative","scale":{"domain":[1.21846,1.26036],"nice":false,"zero":false}}}},
{"data":{"values":[{}]},"mark":{"type":"text","text":"* Berlin","align":"right","baseline":"alphabetic","fontSize":9.5,"color":"#ff1a1a"},
 "encoding":{"x":{"datum":449.55,"type":"quantitative","scale":{"domain":[-0.375,478.125],"nice":false,"zero":false},"axis":null},"y":{"datum":1.25601,"type":"quantitative","scale":{"domain":[1.21846,1.26036],"nice":false,"zero":false}}}},
{"data":{"values":[{}]},"mark":{"type":"text","text":"* London","align":"right","baseline":"alphabetic","fontSize":9.5,"color":"#ff1a1a"},
 "encoding":{"x":{"datum":449.55,"type":"quantitative","scale":{"domain":[-0.375,478.125],"nice":false,"zero":false},"axis":null},"y":{"datum":1.25536,"type":"quantitative","scale":{"domain":[1.21846,1.26036],"nice":false,"zero":false}}}},
{"data":{"values":[{}]},"mark":{"type":"text","text":"New York","align":"right","baseline":"alphabetic","fontSize":9.5,"color":"#8c8c8c"},
 "encoding":{"x":{"datum":449.55,"type":"quantitative","scale":{"domain":[-0.375,478.125],"nice":false,"zero":false},"axis":null},"y":{"datum":1.25472,"type":"quantitative","scale":{"domain":[1.21846,1.26036],"nice":false,"zero":false}}}},
{"data":{"values":[{}]},"mark":{"type":"text","text":"[ 21:17 ]","align":"right","baseline":"alphabetic","fontSize":9.5,"color":"#8c8c8c"},
 "encoding":{"x":{"datum":465.375,"type":"quantitative","scale":{"domain":[-0.375,478.125],"nice":false,"zero":false},"axis":null},"y":{"datum":1.25794,"type":"quantitative","scale":{"domain":[1.21846,1.26036],"nice":false,"zero":false}}}},
{"data":{"values":[{}]},"mark":{"type":"text","text":"09:38 PM","align":"right","baseline":"alphabetic","fontSize":9.5,"color":"#8c8c8c"},
 "encoding":{"x":{"datum":465.375,"type":"quantitative","scale":{"domain":[-0.375,478.125],"nice":false,"zero":false},"axis":null},"y":{"datum":1.2573,"type":"quantitative","scale":{"domain":[1.21846,1.26036],"nice":false,"zero":false}}}},
{"data":{"values":[{}]},"mark":{"type":"text","text":"07:38 PM","align":"right","baseline":"alphabetic","fontSize":9.5,"color":"#8c8c8c"},
 "encoding":{"x":{"datum":465.375,"type":"quantitative","scale":{"domain":[-0.375,478.125],"nice":false,"zero":false},"axis":null},"y":{"datum":1.25665,"type":"quantitative","scale":{"domain":[1.21846,1.26036],"nice":false,"zero":false}}}},
{"data":{"values":[{}]},"mark":{"type":"text","text":"12:38 PM","align":"right","baseline":"alphabetic","fontSize":9.5,"color":"#ff1a1a"},
 "encoding":{"x":{"datum":465.375,"type":"quantitative","scale":{"domain":[-0.375,478.125],"nice":false,"zero":false},"axis":null},"y":{"datum":1.25601,"type":"quantitative","scale":{"domain":[1.21846,1.26036],"nice":false,"zero":false}}}},
{"data":{"values":[{}]},"mark":{"type":"text","text":"11:38 AM","align":"right","baseline":"alphabetic","fontSize":9.5,"color":"#ff1a1a"},
 "encoding":{"x":{"datum":465.375,"type":"quantitative","scale":{"domain":[-0.375,478.125],"nice":false,"zero":false},"axis":null},"y":{"datum":1.25536,"type":"quantitative","scale":{"domain":[1.21846,1.26036],"nice":false,"zero":false}}}},
{"data":{"values":[{}]},"mark":{"type":"text","text":"06:38 AM","align":"right","baseline":"alphabetic","fontSize":9.5,"color":"#8c8c8c"},
 "encoding":{"x":{"datum":465.375,"type":"quantitative","scale":{"domain":[-0.375,478.125],"nice":false,"zero":false},"axis":null},"y":{"datum":1.25472,"type":"quantitative","scale":{"domain":[1.21846,1.26036],"nice":false,"zero":false}}}},
{"data":{"values":[{}]},"mark":{"type":"text","text":"ATR (20): 36 pips","align":"right","baseline":"alphabetic","fontSize":9.5,"color":"#8c8c8c"},
 "encoding":{"x":{"datum":465.375,"type":"quantitative","scale":{"domain":[-0.375,478.125],"nice":false,"zero":false},"axis":null},"y":{"datum":1.25407,"type":"quantitative","scale":{"domain":[1.21846,1.26036],"nice":false,"zero":false}}}}
]
},
{
"width":1868,"height":193,
"view":{"stroke":"#000","strokeWidth":1},
"layer":[
{"data":{"name":"ind"},
 "mark":{"type":"line","color":"#1cb2f2","strokeWidth":2,"interpolate":"monotone"},
 "encoding":{
  "x":{"field":"k","type":"quantitative","scale":{"domain":[-0.375,466.625],"nice":false,"zero":false},
   "axis":{"title":null,"values":[0,16,32,48,64,80,96,112,128,144,160,176,192,208,224,240,256,272,288,304,320,336,352],
    "labelExpr":"['18 Sep 2019','19 Sep 03:00','19 Sep 19:00','20 Sep 11:00','23 Sep 03:00','23 Sep 19:00','24 Sep 11:00','25 Sep 03:00','25 Sep 19:00','26 Sep 11:00','27 Sep 03:00','27 Sep 19:00','30 Sep 11:00','1 Oct 03:00','1 Oct 19:00','2 Oct 11:00','3 Oct 03:00','3 Oct 19:00','4 Oct 11:00','7 Oct 03:00','7 Oct 19:00','8 Oct 11:00','9 Oct 03:00'][round(datum.value/16)]",
    "labelAlign":"left","labelBaseline":"top","labelPadding":2,"labelOffset":0,"tickSize":3,"domain":false,"labelFlush":false,"labelOverlap":false,"labelBound":false,"labelFontSize":9.5,"labelFont":"Liberation Sans","labelColor":"#000"}},
  "y":{"field":"v","type":"quantitative","scale":{"domain":[14.7685,37.3618],"nice":false,"zero":false},
   "axis":{"orient":"right","title":null,"values":[14.7685,37.3618],"format":".4f","ticks":false,"domain":false,"labelPadding":4,"labelOverlap":false,"labelFontSize":9.5,"labelFont":"Liberation Sans","labelColor":"#000",
    "labelBaseline":{"condition":{"test":"datum.value > 20","value":"top"},"value":"bottom"}}}}},
{"data":{"values":[{}]},
 "mark":{"type":"text","text":"Dual differentiator(5.00) 21.7147","align":"left","baseline":"alphabetic","fontSize":9.5,"color":"#000"},
 "encoding":{"x":{"datum":-0.05,"type":"quantitative","scale":{"domain":[-0.375,466.625],"nice":false,"zero":false}},
  "y":{"datum":35.875,"type":"quantitative","scale":{"domain":[14.7685,37.3618],"nice":false,"zero":false}}}}
]
}
]
}
